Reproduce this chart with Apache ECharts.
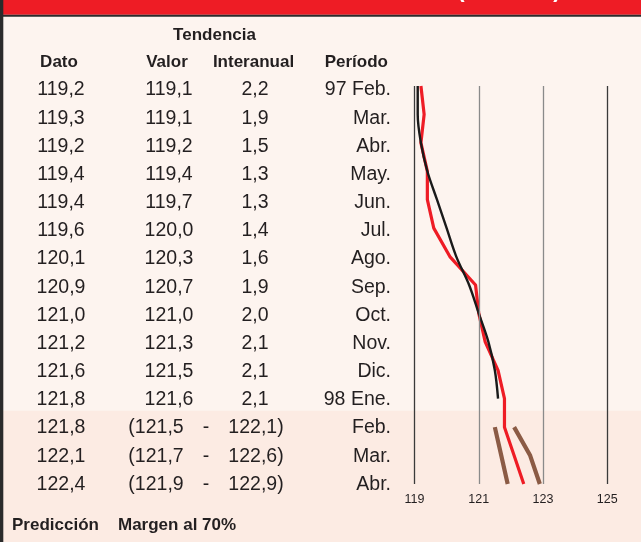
<!DOCTYPE html>
<html>
<head>
<meta charset="utf-8">
<script src="https://cdn.jsdelivr.net/npm/echarts@6/dist/echarts.min.js"></script>
<style>
html,body{margin:0;padding:0;background:#fdf4ef;}
#c{width:641px;height:542px;}
</style>
</head>
<body>
<div id="c"></div>
<script>
// ---- data ----
var periods = ['97 Feb.','Mar.','Abr.','May.','Jun.','Jul.','Ago.','Sep.','Oct.','Nov.','Dic.','98 Ene.','Feb.','Mar.','Abr.'];
var dato = [119.2,119.3,119.2,119.4,119.4,119.6,120.1,120.9,121.0,121.2,121.6,121.8,121.8,122.1,122.4];
var tendValor = [119.1,119.1,119.2,119.4,119.7,120.0,120.3,120.7,121.0,121.3,121.5,121.6];
var interanual = [2.2,1.9,1.5,1.3,1.3,1.4,1.6,1.9,2.0,2.1,2.1,2.1];
var margenInf = [121.5,121.7,121.9];
var margenSup = [122.1,122.6,122.9];
var xTicks = [119,121,123,125];

// ---- helpers ----
var FF = '"Liberation Sans", Arial, Helvetica, sans-serif';
function fmt(v){ return v.toFixed(1).replace('.', ','); }
function rowY(i){ return 90 + 28.17 * i; }
function txt(t, x, y, align, size, bold, color){
  return { type:'text', z:5, style:{ text:t, x:x, y:y, textAlign:align, textVerticalAlign:'middle',
    font:(bold?'bold ':'') + size + 'px ' + FF, fill: color || '#231f20' } };
}
var nHist = tendValor.length;
var g = [];
// backgrounds
g.push({type:'rect', z:-10, shape:{x:0,y:0,width:641,height:542}, style:{fill:'#fdf4ef'}});
g.push({type:'rect', z:-9, shape:{x:0,y:410.7,width:641,height:132}, style:{fill:'#fcebe3'}});
g.push({type:'rect', z:-8, shape:{x:0,y:0,width:641,height:14.7}, style:{fill:'#ee1c25'}});
g.push({type:'rect', z:-7, shape:{x:0,y:14.7,width:641,height:2}, style:{fill:'#2b2b2b'}});
g.push({type:'rect', z:-7, shape:{x:0,y:0,width:3.3,height:542}, style:{fill:'#2b2b2b'}});
// cut-off title glyphs (only their lowest tips show)
g.push({type:'text', z:-6, style:{text:'(', x:461, y:1.6, textAlign:'center', textVerticalAlign:'bottom', font:'bold 22px ' + FF, fill:'#ffffff'}});
g.push({type:'text', z:-6, style:{text:')', x:557, y:1.6, textAlign:'center', textVerticalAlign:'bottom', font:'bold 22px ' + FF, fill:'#ffffff'}});
// headers
g.push(txt('Tendencia', 214.5, 35, 'center', 17, true));
g.push(txt('Dato', 59, 62, 'center', 17, true));
g.push(txt('Valor', 167, 62, 'center', 17, true));
g.push(txt('Interanual', 253.5, 62, 'center', 17, true));
g.push(txt('Período', 388, 62, 'right', 17, true));
// rows
for (var i = 0; i < periods.length; i++) {
  var y = rowY(i);
  g.push(txt(fmt(dato[i]), 61, y, 'center', 19.5, false));
  g.push(txt(periods[i], 391, y, 'right', 19.5, false));
  if (i < nHist) {
    g.push(txt(fmt(tendValor[i]), 169, y, 'center', 19.5, false));
    g.push(txt(fmt(interanual[i]), 255, y, 'center', 19.5, false));
  } else {
    var k = i - nHist;
    g.push(txt('(' + fmt(margenInf[k]), 156, y, 'center', 19.5, false));
    g.push(txt('-', 206, y, 'center', 19.5, false));
    g.push(txt(fmt(margenSup[k]) + ')', 256, y, 'center', 19.5, false));
  }
}
// footer
g.push(txt('Predicción', 12, 525, 'left', 17, true));
g.push(txt('Margen al 70%', 118, 525, 'left', 17, true));

var datoPts = dato.map(function(v,i){ return [v,i]; });
var tendPts = tendValor.map(function(v,i){ return [v,i]; });
var infPts = margenInf.map(function(v,k){ return [v, nHist + k]; });
var supPts = margenSup.map(function(v,k){ return [v, nHist + k]; });

var chart = echarts.init(document.getElementById('c'), null, {renderer:'canvas'});
chart.setOption({
  animation:false,
  backgroundColor:'transparent',
  graphic:{ elements:g },
  grid:{ left:414.5, right:33.7, top:86, bottom:58, containLabel:false },
  xAxis:{ type:'value', min:119, max:125, interval:1,
    axisLine:{show:false}, axisTick:{show:false}, splitLine:{show:false},
    axisLabel:{ margin:9, color:'#231f20', fontSize:12.5, fontFamily:FF,
      formatter:function(v){ return xTicks.indexOf(v) >= 0 ? String(v) : ''; } } },
  yAxis:{ type:'value', min:0, max:periods.length - 1, inverse:true, show:false },
  series:[
    { type:'line', data:[], silent:true,
      markLine:{ silent:true, symbol:'none', label:{show:false}, animation:false,
        data: xTicks.map(function(t,i){ return { xAxis:t, lineStyle:{ type:'solid', width:1.3,
          color:(i===0||i===xTicks.length-1)?'#3a3a3a':'#8a8a8a' } }; }) } },
    { name:'Dato', type:'line', data:datoPts, symbol:'none', z:3,
      lineStyle:{ color:'#ee1c25', width:3.2 } },
    { name:'Tendencia', type:'line', data:tendPts, symbol:'none', smooth:0.35, z:4,
      lineStyle:{ color:'#1a1a1a', width:2.4 } },
    { name:'Inf', type:'line', data:infPts, symbol:'none', z:3,
      lineStyle:{ color:'#8b5b45', width:4.2 } },
    { name:'Sup', type:'line', data:supPts, symbol:'none', z:3,
      lineStyle:{ color:'#8b5b45', width:4.2 } }
  ]
});
</script>
</body>
</html>
